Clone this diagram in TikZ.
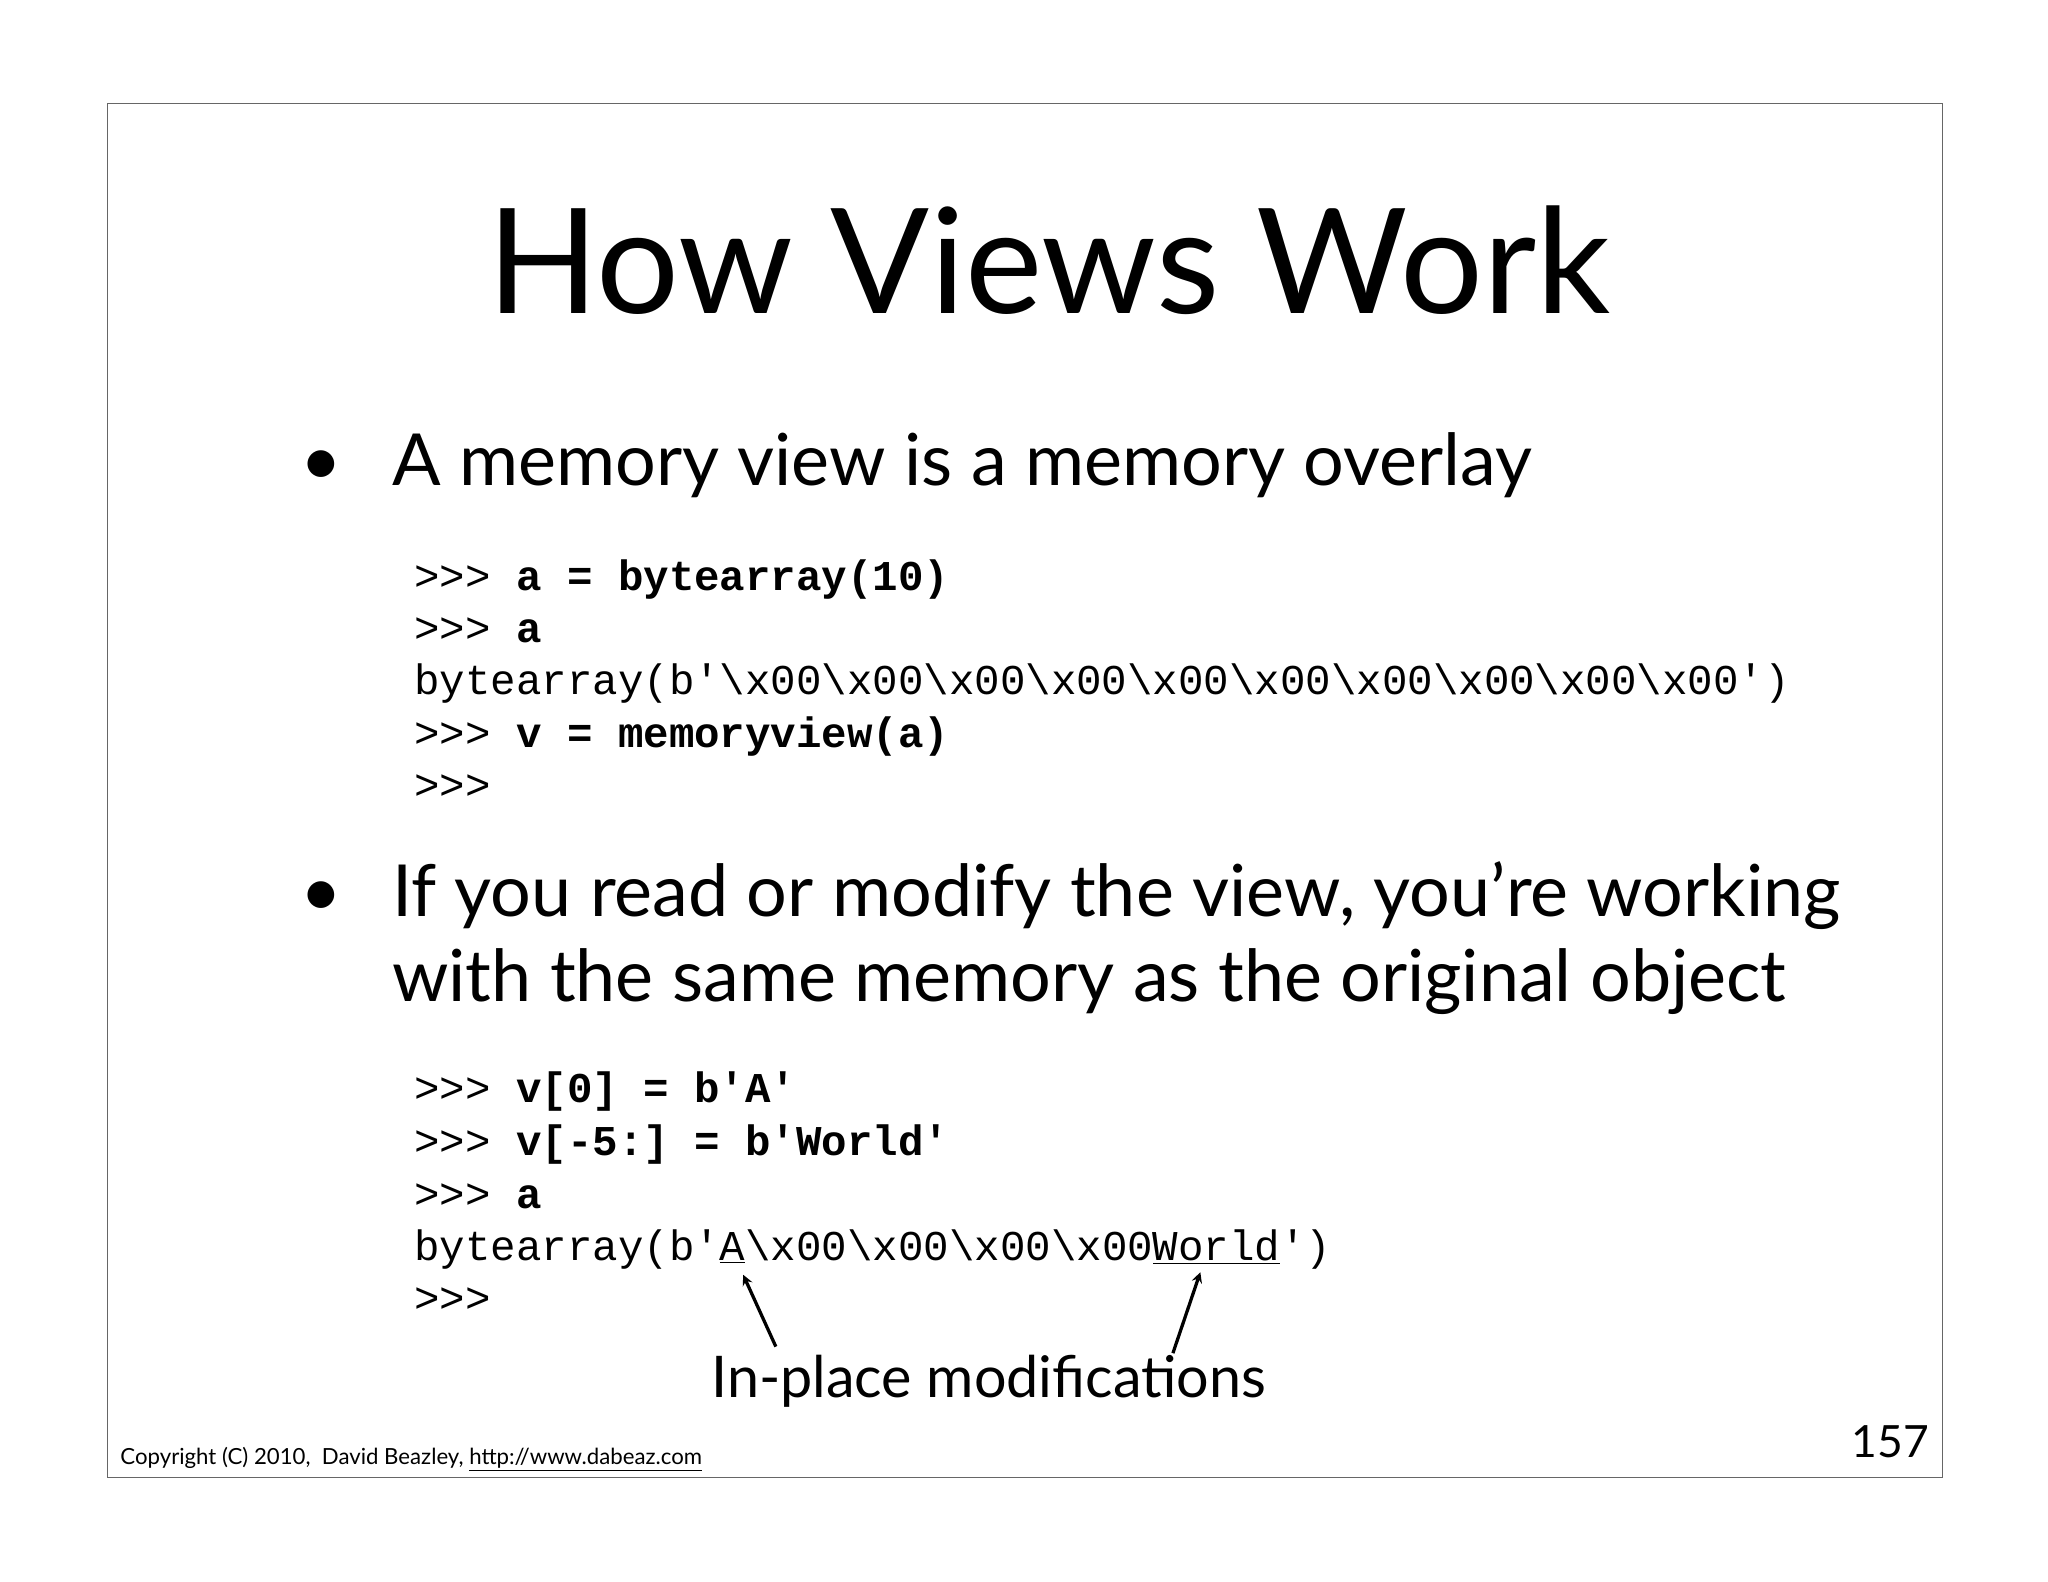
\documentclass[tikz,border=0pt]{standalone}
\usepackage{fontspec}
\setmainfont{Lato}
\setmonofont{Liberation Mono}
\begin{document}
\begin{tikzpicture}[x=1pt,y=-1pt,
  code/.style={anchor=base west,inner sep=0pt,font=\fontsize{32.5}{34}\selectfont\ttfamily},
  btxt/.style={anchor=base west,inner sep=0pt,font=\fontsize{55}{60}\selectfont},
  arr/.style={-stealth,line width=2.5pt}]
\useasboundingbox (0,0) rectangle (1568,1211);
\draw[line width=0.8pt,black!60] (82,79) rectangle (1487,1131);
\node[anchor=base,inner sep=0pt,font=\fontsize{112}{120}\selectfont] (title) at (803,240) {How Views Work};
\node[btxt] (b1) at (230,372) {\textbullet};
\node[btxt] (t1) at (300,372) {A memory view is a memory overlay};
\node[code] (c1) at (317,452) {>>> \textbf{a = bytearray(10)}};
\node[code] (c2) at (317,492) {>>> \textbf{a}};
\node[code] (c3) at (317,532) {bytearray(b'\textbackslash x00\textbackslash x00\textbackslash x00\textbackslash x00\textbackslash x00\textbackslash x00\textbackslash x00\textbackslash x00\textbackslash x00\textbackslash x00')};
\node[code] (c4) at (317,572) {>>> \textbf{v = memoryview(a)}};
\node[code] (c5) at (317,612) {>>>};
\node[btxt] (b2) at (230,702) {\textbullet};
\node[btxt] (t2) at (300,702) {If you read or modify the view, you're working};
\node[btxt] (t3) at (300,767) {with the same memory as the original object};
\node[code] (d1) at (317,844) {>>> \textbf{v[0] = b'A'}};
\node[code] (d2) at (317,885) {>>> \textbf{v[-5:] = b'World'}};
\node[code] (d3) at (317,925) {>>> \textbf{a}};
\node[code] (d4) at (317,965) {bytearray(b'\underline{A}\textbackslash x00\textbackslash x00\textbackslash x00\textbackslash x00\underline{World}')};
\node[code] (d5) at (317,1005) {>>>};
\node[anchor=base,inner sep=0pt,font=\fontsize{44}{48}\selectfont] (lab) at (757,1070) {In-place modifications};
\coordinate (a1s) at (594,1031);
\coordinate (a1e) at (569,976);
\coordinate (a2s) at (898,1036);
\coordinate (a2e) at (919,974);
\draw[arr] (a1s) -- (a1e);
\draw[arr] (a2s) -- (a2e);
\node[anchor=base west,inner sep=0pt,font=\fontsize{17}{18}\selectfont] (copy) at (92,1121) {Copyright (C) 2010, \ David Beazley, \underline{http://www.dabeaz.com}};
\node[anchor=base east,inner sep=0pt,font=\fontsize{34}{36}\selectfont] (num) at (1477,1116) {157};
\end{tikzpicture}
\end{document}
